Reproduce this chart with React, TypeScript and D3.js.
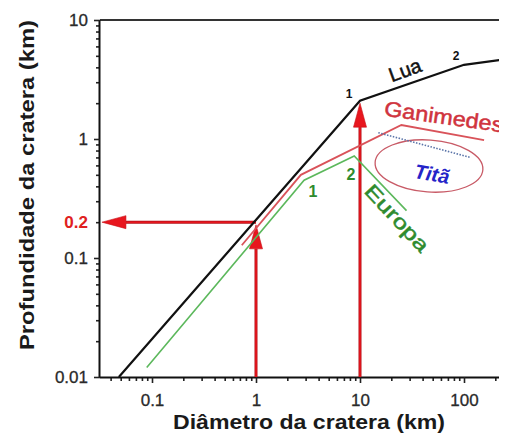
import React, { useEffect, useRef } from "react";
import * as d3 from "d3";

const W = 507;
const H = 445;

// Data (diameter km, depth km)
const luaD = [0.048, 10, 100, 260];
const luaDepth = [0.01, 2.1, 4.2, 4.7];
const ganD = [0.73, 2.7, 25, 156];
const ganDepth = [0.128, 0.5, 1.31, 0.98];
const eurD = [0.089, 2.9, 8.8, 28];
const eurDepth = [0.012, 0.45, 0.72, 0.25];
const titaD = [15, 115];
const titaDepth = [1.13, 0.7];

const xMajor = [0.1, 1, 10, 100];
const xMajorLabels = ["0.1", "1", "10", "100"];
const yMajor = [0.01, 0.1, 1, 10];
const yMajorLabels = ["0.01", "0.1", "1", "10"];

// arrows: [fromD, fromDepth, toD, toDepth]
const arrowFromD = [1, 10, 1];
const arrowFromDepth = [0.01, 0.01, 0.2];
const arrowToD = [1, 10, 0.033];
const arrowToDepth = [0.19, 2.0, 0.2];

const minorTicks = (lo: number, hi: number) => {
  const out: number[] = [];
  for (let e = -3; e <= 3; e++) {
    for (let m = 2; m <= 9; m++) {
      const v = m * Math.pow(10, e);
      if (v > lo && v < hi) out.push(v);
    }
  }
  return out;
};

export default function App() {
  const gx = useRef<SVGGElement>(null);
  const gy = useRef<SVGGElement>(null);

  const x = d3.scaleLog().domain([Math.pow(10, -1.5), Math.pow(10, 2.5)]).range([100, 516]);
  const y = d3.scaleLog().domain([0.01, 10]).range([377, 20]);
  const font = "Liberation Sans, Arial, sans-serif";

  useEffect(() => {
    if (gx.current) {
      const g = d3.select(gx.current);
      g.selectAll("*").remove();
      const minor = g.append("g").call(
        d3.axisBottom(x).tickValues(minorTicks(0.031, 316)).tickSize(4).tickFormat(() => "")
      );
      minor.select(".domain").remove();
      minor.selectAll("line").attr("stroke", "#222").attr("stroke-width", 1.6);
      const major = g.append("g").call(
        d3.axisBottom(x).tickValues(xMajor).tickSize(6).tickPadding(11)
          .tickFormat((d, i) => xMajorLabels[i])
      );
      major.select(".domain").attr("stroke", "#111").attr("stroke-width", 2).attr("d", `M100,0.5H507`);
      major.selectAll("line").attr("stroke", "#222").attr("stroke-width", 1.6);
      major.selectAll("text").attr("font-size", 17).attr("fill", "#2a2a2a")
        .attr("stroke", "#2a2a2a").attr("stroke-width", 0.3)
        .attr("font-family", font);
    }
    if (gy.current) {
      const g = d3.select(gy.current);
      g.selectAll("*").remove();
      const minor = g.append("g").call(
        d3.axisLeft(y).tickValues(minorTicks(0.01, 10)).tickSize(4).tickFormat(() => "")
      );
      minor.select(".domain").remove();
      minor.selectAll("line").attr("stroke", "#222").attr("stroke-width", 1.6);
      const major = g.append("g").call(
        d3.axisLeft(y).tickValues(yMajor).tickSize(6).tickPadding(6)
          .tickFormat((d, i) => yMajorLabels[i])
      );
      major.select(".domain").attr("stroke", "#111").attr("stroke-width", 2).attr("d", `M-0.5,20V378`);
      major.selectAll("line").attr("stroke", "#222").attr("stroke-width", 1.6);
      major.selectAll("text").attr("font-size", 17).attr("fill", "#2a2a2a")
        .attr("stroke", "#2a2a2a").attr("stroke-width", 0.3)
        .attr("font-family", font);
    }
  });

  const line = d3.line<[number, number]>().x((d) => x(d[0])).y((d) => y(d[1]));
  const pts = (a: number[], b: number[]) => a.map((v, i) => [v, b[i]] as [number, number]);

  const arrowRed = "#e8161e";
  const arrows = arrowFromD.map((fd, i) => {
    const x1 = x(fd), y1 = y(arrowFromDepth[i]);
    const x2 = x(arrowToD[i]), y2 = y(arrowToDepth[i]);
    const ang = Math.atan2(y2 - y1, x2 - x1);
    const L = 24, hw = 6.5;
    const bx = x2 - L * Math.cos(ang), by = y2 - L * Math.sin(ang);
    const px = -Math.sin(ang) * hw, py = Math.cos(ang) * hw;
    return (
      <g key={i}>
        <line x1={x1} y1={y1} x2={bx} y2={by} stroke="#b01018" strokeWidth={3} />
        <line x1={x1} y1={y1} x2={bx} y2={by} stroke={arrowRed} strokeWidth={1.6} />
        <polygon
          points={`${x2},${y2} ${bx + px},${by + py} ${bx - px},${by - py}`}
          fill={arrowRed}
          stroke="#c81018"
          strokeWidth={0.6}
        />
      </g>
    );
  });

  return (
    <svg width={W} height={H} style={{ display: "block", margin: "-8px", background: "#fff" }}>
      <rect width={W} height={H} fill="#fff" />
      {/* top border */}
      <line x1={100} y1={20} x2={507} y2={20} stroke="#333" strokeWidth={2} />
      <g ref={gx} transform={`translate(0,377)`} />
      <g ref={gy} transform={`translate(100,0)`} />

      {/* arrows */}
      {arrows}

      {/* Europa */}
      <path d={line(pts(eurD, eurDepth)) || ""} fill="none" stroke="#5cb85c" strokeWidth={1.6} />
      {/* Ganimedes */}
      <path d={line(pts(ganD, ganDepth)) || ""} fill="none" stroke="#d9535a" strokeWidth={1.8} />
      {/* Lua */}
      <path d={line(pts(luaD, luaDepth)) || ""} fill="none" stroke="#111" strokeWidth={2.2} />

      {/* Titã */}
      <ellipse cx={429} cy={166} rx={54} ry={26} fill="none" stroke="#c85a66" strokeWidth={1.3}
        transform="rotate(4 429 166)" />
      <path
        d={line(pts(titaD, titaDepth)) || ""}
        fill="none"
        stroke="#5a74a8"
        strokeWidth={1.6}
        strokeDasharray="1.5 1.5"
      />
      <text x={432} y={181} fontFamily={font} fontSize={20} fontStyle="italic" fontWeight="bold"
        fill="#2424c8" textAnchor="middle" transform="rotate(10 432 174)">Titã</text>

      {/* labels */}
      <text x={405} y={77} fontFamily={font} fontSize={20} fill="#111" stroke="#111" strokeWidth={0.5}
        textAnchor="middle" transform="rotate(-20 405 70)">Lua</text>
      <text x={349} y={98} fontFamily={font} fontSize={12} fontWeight="bold" fill="#111" textAnchor="middle">1</text>
      <text x={456} y={60} fontFamily={font} fontSize={12} fontWeight="bold" fill="#111" textAnchor="middle">2</text>
      <text x={444} y={124} fontFamily={font} fontSize={21} fill="#d0343e" stroke="#d0343e" strokeWidth={0.5}
        textAnchor="middle" textLength={120} lengthAdjust="spacingAndGlyphs"
        transform="rotate(8 444 116)">Ganimedes</text>
      <text x={397} y={225} fontFamily={font} fontSize={20} fill="#2e8b2e" stroke="#2e8b2e" strokeWidth={0.5}
        textAnchor="middle" textLength={84} lengthAdjust="spacingAndGlyphs"
        transform="rotate(47 397 218)">Europa</text>
      <text x={351} y={180} fontFamily={font} fontSize={16} fontWeight="bold" fill="#2e8b2e" textAnchor="middle">2</text>
      <text x={313} y={197} fontFamily={font} fontSize={16} fontWeight="bold" fill="#2e8b2e" textAnchor="middle">1</text>
      <text x={88} y={228} fontFamily={font} fontSize={17} fontWeight="bold" fill="#e02020" textAnchor="end">0.2</text>

      {/* axis titles */}
      <text x={309} y={429} fontFamily={font} fontSize={20} fontWeight="bold" fill="#1a1a1a" textAnchor="middle"
        textLength={272} lengthAdjust="spacingAndGlyphs">
        Diâmetro da cratera (km)
      </text>
      <text x={0} y={0} fontFamily={font} fontSize={20} fontWeight="bold" fill="#1a1a1a" textAnchor="middle"
        textLength={330} lengthAdjust="spacingAndGlyphs"
        transform="translate(34,185) rotate(-90)">
        Profundidade da cratera (km)
      </text>
    </svg>
  );
}
